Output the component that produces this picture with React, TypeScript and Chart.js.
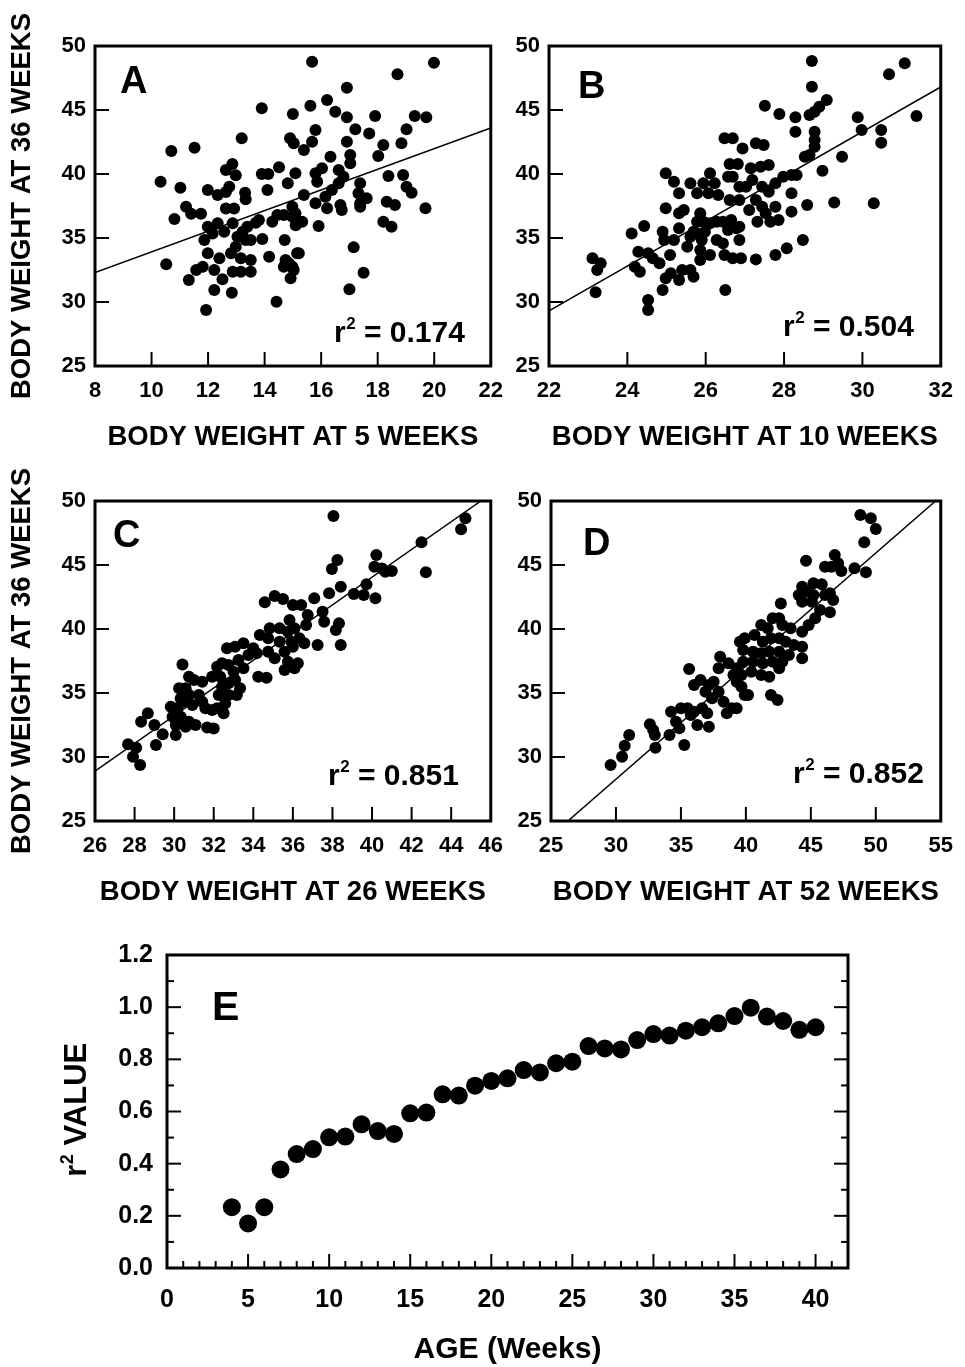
import React, { useEffect, useRef } from 'react';
import { Chart, registerables } from 'chart.js';

Chart.register(...registerables);

const FONT = "'Liberation Sans', Arial, Helvetica, sans-serif";

// ---------------- DATA ----------------
// Panel A: body weight at 5 weeks (x) vs 36 weeks (y)
const panelAX = [13.90, 15.00, 13.19, 10.70, 11.52, 14.90, 15.03, 10.32, 11.02, 11.99, 12.86, 12.63, 12.98, 12.75, 12.34, 12.63, 13.31, 13.33, 13.90, 14.13, 14.51, 14.82, 15.09, 14.10, 11.22, 11.40, 11.75, 10.81, 12.63, 12.92, 11.99, 12.34, 12.87, 12.16, 11.87, 12.57, 13.22, 13.39, 13.69, 13.80, 13.51, 13.33, 13.04, 13.92, 14.27, 14.45, 14.68, 14.71, 14.98, 15.10, 15.15, 10.52, 11.99, 12.40, 12.81, 12.98, 13.16, 13.51, 14.16, 14.74, 14.86, 14.68, 14.98, 14.92, 11.58, 11.81, 12.22, 12.87, 13.16, 13.51, 11.32, 12.51, 12.22, 12.84, 11.93, 14.42, 15.68, 19.99, 18.70, 16.91, 16.21, 15.62, 16.50, 16.91, 17.91, 19.31, 19.72, 17.21, 17.70, 15.80, 19.02, 18.84, 15.39, 15.68, 16.91, 18.20, 18.02, 17.03, 17.03, 16.33, 16.03, 15.80, 15.86, 16.62, 16.79, 16.62, 18.38, 18.90, 19.02, 19.20, 17.38, 17.32, 17.61, 17.38, 16.38, 16.15, 15.39, 15.80, 16.21, 16.68, 16.73, 14.98, 15.09, 15.33, 18.32, 18.61, 17.38, 19.69, 18.20, 18.49, 15.91, 17.15, 15.21, 15.03, 17.50, 17.00];
const panelAY = [45.13, 44.69, 42.79, 41.80, 42.05, 42.80, 42.40, 39.40, 38.93, 38.75, 40.78, 40.31, 39.90, 39.00, 38.36, 38.60, 38.54, 38.02, 40.00, 40.00, 40.52, 39.27, 40.05, 38.75, 37.45, 36.90, 36.90, 36.48, 37.30, 37.30, 35.88, 36.15, 36.15, 35.36, 34.84, 35.49, 35.49, 35.88, 36.20, 36.40, 34.84, 34.84, 35.10, 34.92, 36.27, 36.80, 36.80, 34.84, 36.66, 36.00, 33.80, 32.95, 33.80, 33.41, 33.80, 34.32, 33.41, 33.28, 33.54, 33.28, 33.02, 32.76, 32.76, 31.85, 32.50, 32.76, 32.50, 32.37, 32.37, 32.37, 31.72, 31.77, 30.94, 30.73, 29.38, 30.02, 48.77, 48.70, 47.79, 46.74, 45.78, 45.34, 44.87, 44.43, 44.53, 44.53, 44.43, 43.49, 43.17, 43.44, 43.49, 42.40, 41.88, 42.52, 42.52, 42.27, 41.41, 41.48, 40.84, 41.35, 40.45, 40.05, 39.40, 40.31, 39.79, 39.27, 39.84, 39.92, 39.00, 38.54, 39.27, 38.49, 38.10, 37.71, 38.75, 38.23, 38.36, 37.71, 37.32, 37.58, 37.19, 37.45, 36.93, 36.27, 37.84, 37.58, 37.45, 37.32, 36.27, 35.88, 35.94, 34.27, 33.80, 32.50, 32.29, 30.99];
const fitAX = [8, 22];
const fitAY = [32.3, 43.6];

// Panel B: body weight at 10 weeks (x) vs 36 weeks (y)
const panelBX = [26.48, 26.69, 26.94, 26.61, 26.82, 24.98, 25.19, 25.32, 25.61, 25.78, 26.11, 25.94, 26.23, 26.07, 26.32, 26.57, 26.69, 26.86, 26.61, 26.86, 24.98, 25.32, 25.44, 25.86, 25.94, 25.78, 26.11, 25.98, 25.78, 26.28, 26.44, 26.65, 26.57, 26.78, 24.11, 24.43, 24.90, 24.94, 25.19, 25.32, 25.69, 25.61, 25.53, 25.90, 25.86, 26.11, 25.86, 26.28, 26.44, 26.86, 26.48, 26.69, 26.90, 23.11, 23.32, 23.23, 23.19, 24.28, 24.53, 24.65, 24.82, 24.19, 24.32, 25.09, 25.11, 24.98, 25.32, 25.40, 25.61, 25.69, 24.90, 24.53, 24.53, 26.50, 28.71, 31.08, 30.68, 28.71, 27.51, 29.09, 28.90, 28.78, 28.65, 27.88, 28.29, 29.88, 31.38, 28.29, 28.78, 29.98, 30.48, 30.48, 28.78, 28.78, 28.65, 28.53, 29.48, 27.28, 27.48, 27.61, 27.40, 27.15, 27.98, 28.19, 28.32, 28.98, 27.19, 27.44, 27.61, 27.78, 27.03, 28.19, 27.28, 27.11, 27.44, 27.53, 27.78, 27.86, 27.65, 27.32, 28.19, 28.59, 29.28, 30.29, 26.86, 27.28, 27.78, 28.07, 28.48];
const panelBY = [42.79, 42.79, 42.00, 40.78, 40.78, 40.05, 39.40, 38.49, 39.27, 38.49, 40.05, 39.27, 39.27, 38.49, 38.36, 39.79, 39.79, 39.00, 37.97, 37.97, 37.32, 36.93, 37.19, 36.93, 36.27, 36.27, 36.15, 35.49, 35.36, 36.27, 36.27, 36.40, 35.63, 35.76, 35.36, 35.94, 35.49, 34.84, 34.84, 35.76, 35.49, 35.10, 34.32, 34.84, 34.06, 33.67, 33.28, 34.84, 34.58, 34.84, 33.67, 33.41, 33.41, 33.41, 33.02, 32.50, 30.76, 33.93, 33.80, 33.41, 33.02, 32.76, 32.37, 33.67, 32.24, 31.85, 31.72, 32.50, 32.50, 31.98, 30.94, 30.16, 29.38, 30.94, 48.83, 48.65, 47.79, 46.82, 45.34, 45.78, 45.26, 44.87, 44.61, 44.69, 44.43, 44.43, 44.53, 43.30, 43.30, 43.44, 43.44, 42.45, 42.66, 42.13, 41.48, 41.35, 41.35, 42.40, 42.27, 40.70, 40.57, 40.45, 39.79, 39.92, 39.92, 40.26, 39.53, 39.00, 38.62, 39.27, 39.00, 38.49, 37.97, 37.19, 37.45, 36.93, 37.45, 36.40, 36.27, 36.27, 37.06, 37.58, 37.78, 37.71, 35.88, 33.33, 33.67, 34.19, 34.84];
const fitBX = [22, 32];
const fitBY = [29.3, 46.8];

// Panel C: body weight at 26 weeks (x) vs 36 weeks (y)
const panelCX = [34.58, 35.08, 35.50, 36.00, 35.83, 35.33, 34.83, 34.33, 34.75, 35.75, 35.33, 35.92, 32.67, 33.08, 33.50, 34.00, 33.75, 34.17, 34.75, 35.08, 35.58, 36.00, 35.75, 36.08, 34.25, 34.67, 35.58, 32.17, 32.42, 32.75, 33.25, 33.00, 33.50, 32.33, 31.92, 32.42, 32.75, 33.08, 33.33, 32.75, 32.25, 32.58, 33.17, 31.42, 31.00, 30.75, 30.42, 30.25, 30.58, 30.33, 30.75, 31.25, 31.42, 30.92, 30.50, 31.58, 31.92, 32.17, 32.50, 29.83, 30.17, 29.92, 30.33, 30.08, 30.08, 30.75, 31.08, 30.58, 31.67, 32.00, 28.33, 28.67, 29.00, 29.42, 29.08, 27.67, 28.08, 27.92, 28.28, 38.05, 44.72, 44.50, 42.50, 42.72, 40.22, 40.12, 40.50, 40.67, 41.00, 38.25, 37.97, 39.72, 39.58, 40.17, 39.08, 38.42, 37.83, 37.08, 36.42, 37.50, 37.58, 36.75, 36.67, 38.33, 38.17, 38.42, 36.08, 36.33, 36.58, 37.25, 36.25];
const panelCY = [42.09, 42.58, 42.34, 41.88, 40.70, 40.05, 40.05, 39.53, 39.27, 39.79, 39.01, 39.01, 38.49, 38.62, 38.88, 38.49, 37.97, 38.10, 38.23, 37.71, 38.23, 38.62, 37.45, 36.93, 36.27, 36.19, 36.80, 37.05, 37.32, 37.19, 37.58, 36.66, 36.93, 36.27, 36.27, 35.49, 35.76, 36.02, 35.37, 34.84, 34.84, 34.18, 34.84, 35.88, 36.02, 36.27, 37.23, 35.37, 35.37, 34.58, 34.84, 34.84, 34.32, 34.06, 34.32, 33.80, 33.67, 33.80, 33.41, 33.93, 33.80, 33.15, 33.15, 32.50, 31.72, 32.76, 32.50, 32.37, 32.30, 32.23, 32.76, 33.41, 32.50, 31.78, 30.94, 30.99, 30.73, 30.02, 29.38, 48.83, 48.65, 47.79, 46.77, 44.43, 45.78, 44.87, 44.73, 44.47, 44.53, 45.39, 44.69, 43.49, 42.66, 42.40, 42.73, 43.30, 42.79, 42.40, 41.88, 41.35, 40.57, 41.09, 40.31, 40.44, 39.92, 38.75, 40.05, 39.27, 38.88, 38.75, 37.32];
const fitCX = [26, 45.5];
const fitCY = [28.9, 50];

// Panel D: body weight at 52 weeks (x) vs 36 weeks (y)
const panelDX = [29.59, 30.47, 30.67, 31.02, 32.61, 32.86, 32.99, 33.04, 34.12, 34.24, 34.62, 35.00, 34.88, 35.26, 35.63, 36.01, 36.51, 37.15, 36.89, 37.52, 37.90, 37.40, 35.51, 36.01, 36.64, 37.02, 36.26, 37.15, 35.76, 38.02, 37.90, 38.66, 39.29, 39.54, 39.91, 39.04, 38.28, 38.91, 38.53, 39.66, 39.91, 48.81, 49.62, 50.00, 49.11, 44.63, 46.84, 47.10, 46.59, 46.09, 47.35, 48.36, 49.24, 45.20, 45.84, 44.33, 44.07, 44.70, 45.20, 46.09, 44.33, 45.08, 46.47, 46.72, 42.69, 45.71, 46.47, 45.33, 44.83, 42.06, 42.56, 41.18, 41.68, 42.81, 43.44, 44.33, 40.67, 41.30, 41.93, 42.56, 43.06, 43.69, 44.33, 44.33, 39.79, 40.55, 41.18, 41.80, 42.56, 43.31, 42.81, 42.06, 41.30, 40.55, 39.79, 40.42, 41.18, 41.80, 42.56, 39.66, 39.29, 40.17, 41.93, 42.44, 39.29];
const panelDY = [29.38, 30.02, 30.88, 31.72, 32.55, 32.11, 31.72, 30.73, 31.72, 33.54, 32.76, 33.80, 32.24, 30.94, 36.88, 35.63, 36.02, 35.63, 35.10, 35.88, 35.10, 34.59, 33.80, 33.54, 33.80, 33.41, 32.50, 32.37, 33.28, 37.84, 36.93, 37.32, 36.93, 39.01, 39.27, 36.41, 34.32, 33.80, 33.41, 35.49, 34.84, 48.91, 48.65, 47.81, 46.77, 45.34, 45.78, 45.13, 44.87, 44.87, 44.53, 44.74, 44.43, 43.57, 43.49, 43.30, 42.66, 42.92, 42.66, 42.66, 42.13, 42.13, 42.79, 42.27, 42.00, 41.48, 41.30, 40.84, 40.31, 40.84, 40.84, 40.31, 40.05, 40.31, 40.05, 39.79, 39.53, 39.01, 39.27, 39.27, 39.01, 38.75, 38.62, 37.71, 38.36, 38.23, 38.10, 38.23, 38.23, 37.97, 37.45, 37.45, 37.32, 37.45, 37.45, 36.66, 36.41, 36.27, 36.93, 36.41, 35.88, 34.84, 34.84, 34.45, 33.80];
const fitDX = [26.3, 54.6];
const fitDY = [25, 50];

// Panel E: r^2 vs age
const ageWeeks = [4, 5, 6, 7, 8, 9, 10, 11, 12, 13, 14, 15, 16, 17, 18, 19, 20, 21, 22, 23, 24, 25, 26, 27, 28, 29, 30, 31, 32, 33, 34, 35, 36, 37, 38, 39, 40];
const r2Values = [0.233, 0.171, 0.233, 0.378, 0.437, 0.456, 0.501, 0.504, 0.551, 0.525, 0.514, 0.593, 0.596, 0.666, 0.661, 0.699, 0.717, 0.727, 0.759, 0.750, 0.785, 0.791, 0.851, 0.842, 0.838, 0.874, 0.897, 0.891, 0.910, 0.923, 0.938, 0.966, 0.998, 0.964, 0.947, 0.913, 0.923];

// Text
const yTitleTop = 'BODY WEIGHT AT 36 WEEKS';
const xTitleA = 'BODY WEIGHT AT 5 WEEKS';
const xTitleB = 'BODY WEIGHT AT 10 WEEKS';
const xTitleC = 'BODY WEIGHT AT 26 WEEKS';
const xTitleD = 'BODY WEIGHT AT 52 WEEKS';
const xTitleE = 'AGE (Weeks)';
const yTitleE = 'VALUE';
const r2Labels = ['0.174', '0.504', '0.851', '0.852'];

// ---------------- HELPERS ----------------
const pts = (xs: number[], ys: number[]) => xs.map((x, i) => ({ x, y: ys[i] }));

const panelPlugin = {
  id: 'panel',
  afterDraw(chart: any, _args: any, o: any) {
    const { ctx, chartArea: ca, scales } = chart;
    const xs = scales.x;
    const ys = scales.y;
    ctx.save();
    ctx.strokeStyle = '#000';
    ctx.fillStyle = '#000';
    const line = (x1: number, y1: number, x2: number, y2: number) => {
      ctx.beginPath();
      ctx.moveTo(x1, y1);
      ctx.lineTo(x2, y2);
      ctx.stroke();
    };
    ctx.lineWidth = 2;
    const near = (a: number, b: number) => Math.abs(a - b) < 1e-6;
    // x ticks (bottom, inward)
    const xStep = o.xMinor || o.xMajor;
    const nx = Math.round((xs.max - xs.min) / xStep);
    for (let i = 1; i < nx; i++) {
      const v = xs.min + i * xStep;
      const isMajor = near(v / o.xMajor, Math.round(v / o.xMajor));
      const len = isMajor ? o.majorLen : o.minorLen;
      const px = xs.getPixelForValue(v);
      line(px, ca.bottom, px, ca.bottom - len);
    }
    // y ticks (left, optionally right)
    const yStep = o.yMinor || o.yMajor;
    const ny = Math.round((ys.max - ys.min) / yStep);
    for (let i = 1; i < ny; i++) {
      const v = ys.min + i * yStep;
      const isMajor = near(v / o.yMajor, Math.round(v / o.yMajor));
      const len = isMajor ? o.majorLen : o.minorLen;
      const py = ys.getPixelForValue(v);
      line(ca.left, py, ca.left + len, py);
      if (o.rightTicks) line(ca.right, py, ca.right - len, py);
    }
    // frame
    ctx.lineWidth = o.frame;
    ctx.strokeRect(ca.left, ca.top, ca.right - ca.left, ca.bottom - ca.top);
    // panel letter
    ctx.textBaseline = 'alphabetic';
    ctx.textAlign = 'left';
    ctx.font = `bold ${o.letterSize}px ${FONT}`;
    ctx.fillText(o.letter, ca.left + o.letterDX, ca.top + o.letterDY);
    // r^2 annotation
    if (o.r2) {
      let x = ca.left + o.r2DX;
      const y = ca.top + o.r2DY;
      ctx.font = `bold 30px ${FONT}`;
      ctx.fillText('r', x, y);
      x += ctx.measureText('r').width + 0.5;
      ctx.font = `bold 17px ${FONT}`;
      ctx.fillText('2', x, y - 13);
      x += ctx.measureText('2').width;
      ctx.font = `bold 30px ${FONT}`;
      ctx.fillText(' = ' + o.r2, x, y);
    }
    // rotated custom y title (r^2 VALUE)
    if (o.yTitle) {
      const size = o.yTitleSize;
      ctx.translate(o.yTitleX, o.yTitleY);
      ctx.rotate(-Math.PI / 2);
      ctx.font = `bold ${size}px ${FONT}`;
      const wr = ctx.measureText('r').width;
      const wv = ctx.measureText(' ' + o.yTitle).width;
      ctx.font = `bold ${Math.round(size * 0.57)}px ${FONT}`;
      const w2 = ctx.measureText('2').width;
      let x = -(wr + w2 + wv) / 2;
      const base = size * 0.36;
      ctx.font = `bold ${size}px ${FONT}`;
      ctx.fillText('r', x, base);
      x += wr + 0.5;
      ctx.font = `bold ${Math.round(size * 0.57)}px ${FONT}`;
      ctx.fillText('2', x, base - size * 0.44);
      x += w2;
      ctx.font = `bold ${size}px ${FONT}`;
      ctx.fillText(' ' + o.yTitle, x, base);
    }
    ctx.restore();
  },
};

interface Spec {
  left: number;
  top: number;
  width: number;
  height: number;
  config: any;
}

const tickFont = (size: number) => ({ family: FONT, size, weight: 'bold' as const });

function scatterSpec(p: {
  left: number; top: number; width: number; height: number;
  yAxisW: number; xAxisH: number; padTop: number; padRight: number;
  xMin: number; xMax: number; xStep: number;
  xs: number[]; ys: number[]; fx: number[]; fy: number[];
  xTitle: string; yTitle: string | null;
  letter: string; letterDX: number; letterDY: number;
  r2: string; r2DX: number; r2DY: number;
}): Spec {
  return {
    left: p.left, top: p.top, width: p.width, height: p.height,
    config: {
      type: 'scatter',
      data: {
        datasets: [
          { data: pts(p.fx, p.fy), showLine: true, pointRadius: 0, borderColor: '#000', borderWidth: 1.5, order: 2 },
          { data: pts(p.xs, p.ys), pointRadius: 6, pointHoverRadius: 6, backgroundColor: '#000', borderColor: '#000', borderWidth: 0, order: 1 },
        ],
      },
      options: {
        animation: false,
        responsive: false,
        events: [],
        layout: { padding: { top: p.padTop, right: p.padRight, left: 0, bottom: 0 } },
        plugins: {
          legend: { display: false },
          tooltip: { enabled: false },
          panel: {
            xMajor: p.xStep, xMinor: 0, yMajor: 5, yMinor: 0, rightTicks: false,
            majorLen: 14, minorLen: 7, frame: 3,
            letter: p.letter, letterDX: p.letterDX, letterDY: p.letterDY, letterSize: 38,
            r2: p.r2, r2DX: p.r2DX, r2DY: p.r2DY,
          },
        },
        scales: {
          x: {
            type: 'linear', position: 'bottom', min: p.xMin, max: p.xMax,
            grid: { display: false, drawTicks: false },
            border: { display: false },
            ticks: { stepSize: p.xStep, color: '#000', font: tickFont(22), padding: 12, maxRotation: 0, autoSkip: false, includeBounds: false },
            title: { display: true, text: p.xTitle, color: '#000', font: { family: FONT, size: 27.5, weight: 'bold' }, padding: { top: 0, bottom: 6 } },
            afterFit: (s: any) => { s.height = p.xAxisH; },
          },
          y: {
            type: 'linear', position: 'left', min: 25, max: 50,
            grid: { display: false, drawTicks: false },
            border: { display: false },
            ticks: { stepSize: 5, color: '#000', font: tickFont(22), padding: 9, autoSkip: false, includeBounds: false },
            title: { display: !!p.yTitle, text: p.yTitle || '', color: '#000', font: { family: FONT, size: 27.5, weight: 'bold' }, padding: { top: 6, bottom: 0 } },
            afterFit: (s: any) => { s.width = p.yAxisW; },
          },
        },
      },
      plugins: [panelPlugin],
    },
  };
}

const specs: Spec[] = [
  scatterSpec({
    left: 0, top: 0, width: 515, height: 460, yAxisW: 95, xAxisH: 94, padTop: 46, padRight: 22,
    xMin: 8, xMax: 22, xStep: 2, xs: panelAX, ys: panelAY, fx: fitAX, fy: fitAY,
    xTitle: xTitleA, yTitle: yTitleTop, letter: 'A', letterDX: 25, letterDY: 47,
    r2: r2Labels[0], r2DX: 239, r2DY: 296,
  }),
  scatterSpec({
    left: 455, top: 0, width: 510, height: 460, yAxisW: 94, xAxisH: 94, padTop: 46, padRight: 16,
    xMin: 22, xMax: 32, xStep: 2, xs: panelBX, ys: panelBY, fx: fitBX, fy: fitBY,
    xTitle: xTitleB, yTitle: null, letter: 'B', letterDX: 29, letterDY: 52,
    r2: r2Labels[1], r2DX: 234, r2DY: 290,
  }),
  scatterSpec({
    left: 0, top: 455, width: 515, height: 460, yAxisW: 95, xAxisH: 94, padTop: 46, padRight: 21,
    xMin: 26, xMax: 46, xStep: 2, xs: panelCX, ys: panelCY, fx: fitCX, fy: fitCY,
    xTitle: xTitleC, yTitle: yTitleTop, letter: 'C', letterDX: 18, letterDY: 46,
    r2: r2Labels[2], r2DX: 233, r2DY: 284,
  }),
  scatterSpec({
    left: 455, top: 455, width: 510, height: 460, yAxisW: 96, xAxisH: 94, padTop: 46, padRight: 17,
    xMin: 25, xMax: 55, xStep: 5, xs: panelDX, ys: panelDY, fx: fitDX, fy: fitDY,
    xTitle: xTitleD, yTitle: null, letter: 'D', letterDX: 32, letterDY: 54,
    r2: r2Labels[3], r2DX: 242, r2DY: 282,
  }),
  {
    left: 0, top: 905, width: 965, height: 460,
    config: {
      type: 'scatter',
      data: {
        datasets: [
          { data: pts(ageWeeks, r2Values), pointRadius: 9, pointHoverRadius: 9, backgroundColor: '#000', borderColor: '#000', borderWidth: 0 },
        ],
      },
      options: {
        animation: false,
        responsive: false,
        events: [],
        layout: { padding: { top: 50, right: 117, left: 0, bottom: 0 } },
        plugins: {
          legend: { display: false },
          tooltip: { enabled: false },
          panel: {
            xMajor: 5, xMinor: 1, yMajor: 0.2, yMinor: 0.1, rightTicks: true,
            majorLen: 14, minorLen: 7, frame: 3,
            letter: 'E', letterDX: 45, letterDY: 65, letterSize: 41,
            r2: null,
            yTitle: yTitleE, yTitleSize: 31, yTitleX: 75, yTitleY: 205,
          },
        },
        scales: {
          x: {
            type: 'linear', position: 'bottom', min: 0, max: 42,
            grid: { display: false, drawTicks: false },
            border: { display: false },
            ticks: { stepSize: 5, color: '#000', font: tickFont(25), padding: 17, maxRotation: 0, autoSkip: false, includeBounds: false },
            title: { display: true, text: xTitleE, color: '#000', font: { family: FONT, size: 30, weight: 'bold', lineHeight: 1 }, padding: { top: 0, bottom: 0 } },
            afterFit: (s: any) => { s.height = 97; },
          },
          y: {
            type: 'linear', position: 'left', min: 0, max: 1.2,
            grid: { display: false, drawTicks: false },
            border: { display: false },
            ticks: { stepSize: 0.2, color: '#000', font: tickFont(25), padding: 14, autoSkip: false, includeBounds: false, callback: (v: any) => Number(v).toFixed(1) },
            afterFit: (s: any) => { s.width = 167; },
          },
        },
      },
      plugins: [panelPlugin],
    },
  },
];

function ChartCanvas({ spec }: { spec: Spec }) {
  const ref = useRef<HTMLCanvasElement>(null);
  useEffect(() => {
    const chart = new Chart(ref.current as HTMLCanvasElement, spec.config);
    return () => chart.destroy();
  }, [spec]);
  return (
    <canvas
      ref={ref}
      width={spec.width}
      height={spec.height}
      style={{ position: 'absolute', left: spec.left, top: spec.top, width: spec.width, height: spec.height }}
    />
  );
}

export default function App() {
  return (
    <div style={{ position: 'absolute', left: 0, top: 0, width: 965, height: 1367, background: '#fff', overflow: 'hidden' }}>
      {specs.map((s, i) => (
        <ChartCanvas key={i} spec={s} />
      ))}
    </div>
  );
}
